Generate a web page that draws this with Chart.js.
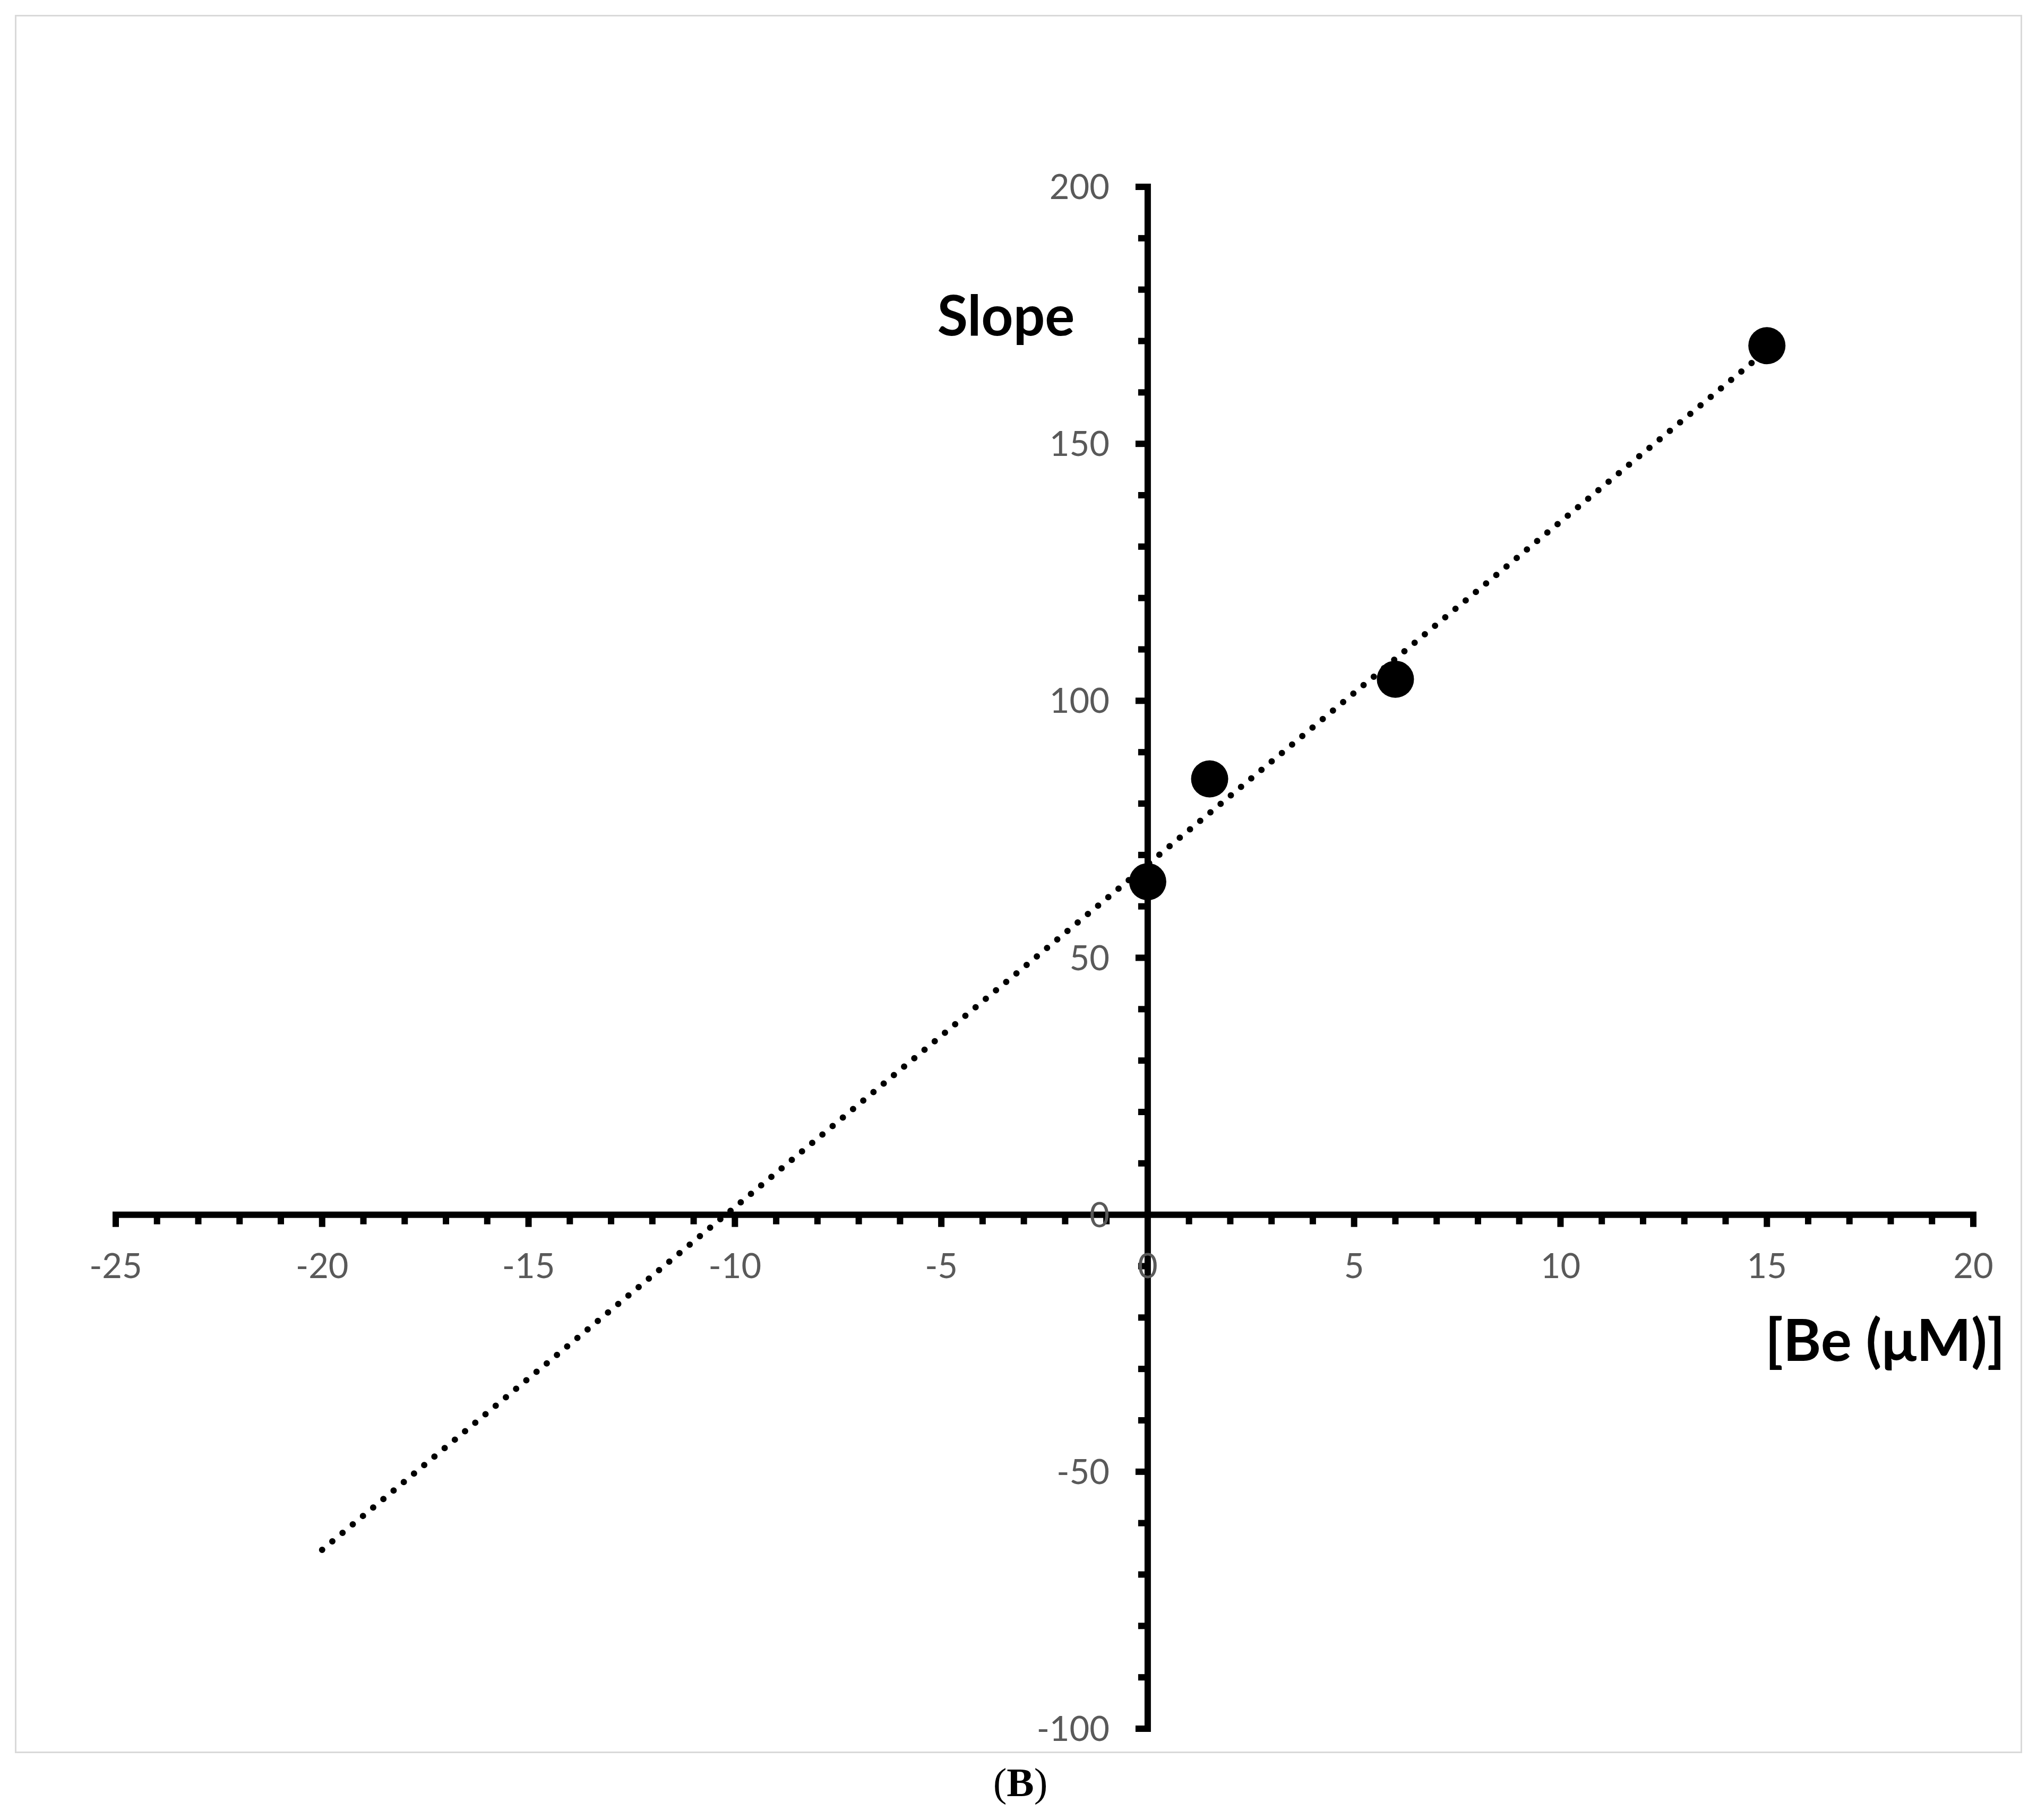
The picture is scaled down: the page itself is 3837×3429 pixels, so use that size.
<!DOCTYPE html>
<html lang="es">
<head>
<meta charset="utf-8">
<title>Slope vs [Be (µM)]</title>
<script src="https://cdn.jsdelivr.net/npm/chart.js@4.4.1/dist/chart.umd.min.js"></script>
<style>
    html, body { margin: 0; padding: 0; background: #ffffff; }
    #marco {
        position: absolute;
        left: 28px;
        top: 28px;
        width: 3775px;
        height: 3269px;
        border: 3px solid #d9d9d9;
    }
    #grafico { position: absolute; left: 0; top: 0; }
</style>
</head>
<body>
<div id="marco"></div>
<canvas id="grafico" width="3837" height="3429"></canvas>
<script>
// Datos
const concBe = [0, 1.5, 6, 15];
const slopeValues = [64.8, 84.8, 104.2, 169.1];

// Línea de tendencia (punteada)
const trendX = [-20, 15];
const trendY = [-65.2, 168.2];

// Etiquetas de los ejes
const xTickValues = [-25, -20, -15, -10, -5, 0, 5, 10, 15, 20];
const yTickValues = [-100, -50, 0, 50, 100, 150, 200];

const X_MIN = -25, X_MAX = 20, X_MINOR = 1;
const Y_MIN = -100, Y_MAX = 200, Y_MINOR = 10;

const AXIS_WIDTH = 12;
const TICK_MINOR = 12;
const TICK_MAJOR = 17;
const LABEL_COLOR = '#595959';
const LABEL_FONT = '65px Lato';
const TITLE_FONT = 'bold 105px Lato';
const XTITLE_FONT = 'bold 109px Lato';

// Dibujar ejes cruzados en (0, 0), marcas y etiquetas
const ejesPlugin = {
    id: 'ejesCruzados',
    beforeDatasetsDraw(chart) {
        const ctx = chart.ctx;
        const x = chart.scales.x;
        const y = chart.scales.y;
        const x0 = x.getPixelForValue(0);
        const y0 = y.getPixelForValue(0);
        const half = AXIS_WIDTH / 2;

        ctx.save();
        ctx.fillStyle = '#000000';

        // Eje X
        const xa = x.getPixelForValue(X_MIN);
        const xb = x.getPixelForValue(X_MAX);
        ctx.fillRect(xa - half, y0 - half, xb - xa + AXIS_WIDTH, AXIS_WIDTH);
        for (let v = X_MIN; v <= X_MAX; v += X_MINOR) {
            if (v === 0) continue;
            const px = x.getPixelForValue(v);
            const len = xTickValues.includes(v) ? TICK_MAJOR : TICK_MINOR;
            ctx.fillRect(px - half, y0, AXIS_WIDTH, half + len);
        }

        // Eje Y
        const ya = y.getPixelForValue(Y_MAX);
        const yb = y.getPixelForValue(Y_MIN);
        ctx.fillRect(x0 - half, ya - half, AXIS_WIDTH, yb - ya + AXIS_WIDTH);
        for (let v = Y_MIN; v <= Y_MAX; v += Y_MINOR) {
            if (v === 0) continue;
            const py = y.getPixelForValue(v);
            const len = yTickValues.includes(v) ? TICK_MAJOR : TICK_MINOR;
            ctx.fillRect(x0 - half - len, py - half, half + len, AXIS_WIDTH);
        }

        // Etiquetas
        ctx.fillStyle = LABEL_COLOR;
        ctx.font = LABEL_FONT;
        ctx.textBaseline = 'alphabetic';

        ctx.textAlign = 'center';
        xTickValues.forEach(v => {
            ctx.fillText(String(v), x.getPixelForValue(v), y0 + 119);
        });

        ctx.textAlign = 'right';
        yTickValues.forEach(v => {
            ctx.fillText(String(v), x0 - 72, y.getPixelForValue(v) + 23);
        });

        ctx.restore();
    },
    afterDraw(chart) {
        const ctx = chart.ctx;
        const x0 = chart.scales.x.getPixelForValue(0);
        const y0 = chart.scales.y.getPixelForValue(0);

        ctx.save();
        ctx.fillStyle = '#000000';
        ctx.textBaseline = 'alphabetic';

        // Título eje Y
        ctx.font = TITLE_FONT;
        ctx.textAlign = 'center';
        ctx.fillText('Slope', x0 - 267, 632);

        // Título eje X
        ctx.font = XTITLE_FONT;
        ctx.textAlign = 'right';
        ctx.fillText('[Be (\u03BCM)]', 3777, y0 + 275);

        // Rótulo del panel
        ctx.textAlign = 'left';
        const partes = [
            { t: '(', f: '77px "Liberation Serif"' },
            { t: 'B', f: 'bold 77px "Liberation Serif"' },
            { t: ')', f: '77px "Liberation Serif"' }
        ];
        let total = 0;
        partes.forEach(p => { ctx.font = p.f; p.w = ctx.measureText(p.t).width; total += p.w; });
        let cx = 1922 - total / 2;
        partes.forEach(p => {
            ctx.font = p.f;
            ctx.fillText(p.t, cx, 3384);
            cx += p.w;
        });

        ctx.restore();
    }
};

function crearGrafico() {
    const canvas = document.getElementById('grafico');
    const ctx = canvas.getContext('2d');

    return new Chart(ctx, {
        type: 'scatter',
        data: {
            datasets: [
                {
                    label: 'Slope',
                    data: concBe.map((v, i) => ({ x: v, y: slopeValues[i] })),
                    pointRadius: 35,
                    pointBackgroundColor: '#000000',
                    pointBorderWidth: 0,
                    showLine: false
                },
                {
                    label: 'Tendencia',
                    data: trendX.map((v, i) => ({ x: v, y: trendY[i] })),
                    showLine: true,
                    pointRadius: 0,
                    borderColor: '#000000',
                    borderWidth: 12,
                    borderDash: [0, 25],
                    borderCapStyle: 'round',
                    fill: false
                }
            ]
        },
        options: {
            responsive: false,
            devicePixelRatio: 1,
            animation: false,
            layout: {
                padding: { left: 218, right: 120, top: 352, bottom: 172 }
            },
            plugins: {
                legend: { display: false },
                tooltip: { enabled: false },
                title: { display: false }
            },
            scales: {
                x: { type: 'linear', min: X_MIN, max: X_MAX, display: false },
                y: { type: 'linear', min: Y_MIN, max: Y_MAX, display: false }
            }
        },
        plugins: [ejesPlugin]
    });
}

document.fonts.load(LABEL_FONT)
    .then(() => document.fonts.load(TITLE_FONT))
    .then(() => document.fonts.load(XTITLE_FONT))
    .finally(crearGrafico);
</script>
</body>
</html>
